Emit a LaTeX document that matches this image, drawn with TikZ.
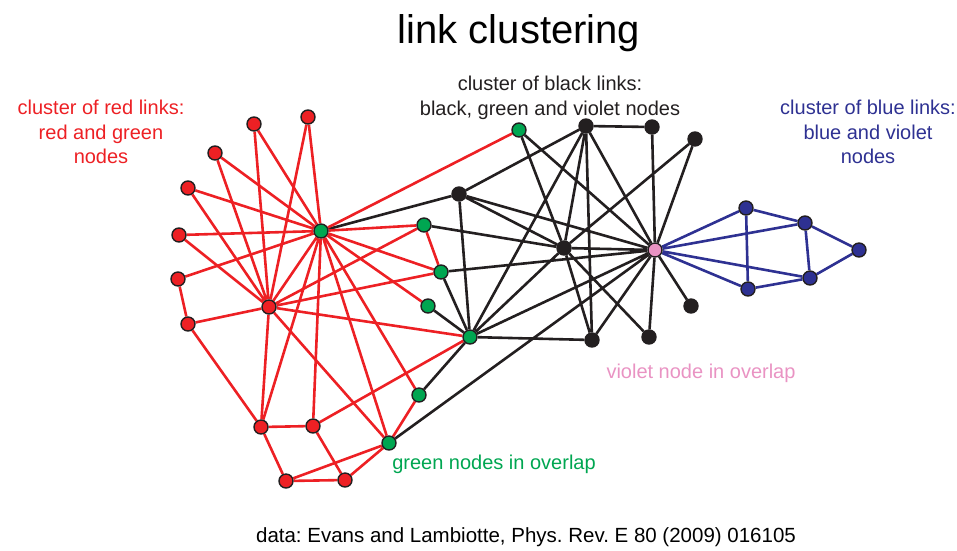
\documentclass[tikz,border=0pt]{standalone}
\usepackage{fontspec}
\setmainfont{Liberation Sans}
\usetikzlibrary{backgrounds}
\frenchspacing

\definecolor{lred}{HTML}{ED2024}
\definecolor{lgreen}{HTML}{00A651}
\definecolor{lblue}{HTML}{2E3192}
\definecolor{lblack}{HTML}{231F20}
\definecolor{lviolet}{HTML}{E993C3}

\begin{document}
\begin{tikzpicture}[x=1pt,y=-1pt,
  dot/.style={circle,draw=lblack,line width=1.4pt,minimum size=14pt,inner sep=0pt},
  rdot/.style={dot,fill=lred},
  gdot/.style={dot,fill=lgreen},
  kdot/.style={dot,fill=lblack},
  udot/.style={dot,fill=lblue},
  vdot/.style={dot,fill=lviolet},
  rlink/.style={lred,line width=2.6pt},
  klink/.style={lblack,line width=2.6pt},
  ulink/.style={lblue,line width=2.6pt},
  note/.style={font=\fontsize{20}{24.5}\selectfont,align=center,inner sep=0pt}]
\useasboundingbox (0,0) rectangle (957,550);

% red cluster
\node[rdot] (r1) at (254,124) {};
\node[rdot] (r2) at (308,117) {};
\node[rdot] (r3) at (215,153) {};
\node[rdot] (r4) at (188,188) {};
\node[rdot] (r5) at (179,235) {};
\node[rdot] (r6) at (178,279) {};
\node[rdot] (r7) at (188,324) {};
\node[rdot] (rhub) at (269,307) {};
\node[rdot] (r8) at (261,427) {};
\node[rdot] (r9) at (313,426) {};
\node[rdot] (r10) at (286,481) {};
\node[rdot] (r11) at (345,480) {};

% green nodes (overlap)
\node[gdot] (ghub) at (321,231) {};
\node[gdot] (gtop) at (519,130) {};
\node[gdot] (g1) at (424,225) {};
\node[gdot] (g2) at (441,272) {};
\node[gdot] (g3) at (428,306) {};
\node[gdot] (g4) at (419,395) {};
\node[gdot] (g5) at (389,443) {};
\node[gdot] (gmid) at (470,337) {};

% black cluster
\node[kdot] (k1) at (459,194) {};
\node[kdot] (k2) at (586,126) {};
\node[kdot] (k3) at (652,127) {};
\node[kdot] (k4) at (695,139) {};
\node[kdot] (k5) at (564,248) {};
\node[kdot] (k6) at (691,306) {};
\node[kdot] (k7) at (592,340) {};
\node[kdot] (k8) at (649,337) {};
\node[vdot] (vio) at (655,250) {};

% blue cluster
\node[udot] (u1) at (746,208) {};
\node[udot] (u2) at (805,223) {};
\node[udot] (u3) at (859,250) {};
\node[udot] (u4) at (810,278) {};
\node[udot] (u5) at (748,289) {};

\begin{pgfonlayer}{background}
\draw[klink] (ghub) -- (k1) (k1) -- (k2) (k1) -- (gmid) (k1) -- (k5) (k1) -- (vio)
  (gtop) -- (k5) (gtop) -- (vio)
  (k2) -- (k3) (k2) -- (gmid) (k2) -- (k5) (k2) -- (k7) (k2) -- (vio)
  (k3) -- (vio) (k4) -- (k5) (k4) -- (vio)
  (g1) -- (k5) (g2) -- (vio) (g2) -- (gmid) (g3) -- (gmid) (g4) -- (gmid) (g5) -- (vio)
  (gmid) -- (k5) (gmid) -- (vio) (gmid) -- (k7)
  (k5) -- (vio) (k5) -- (k7) (k5) -- (k8)
  (vio) -- (k6) (vio) -- (k7) (vio) -- (k8);
\draw[rlink] (ghub) -- (r1) (ghub) -- (r2) (ghub) -- (r3) (ghub) -- (r4) (ghub) -- (r5)
  (ghub) -- (r6) (ghub) -- (rhub) (ghub) -- (g1) (ghub) -- (g2) (ghub) -- (g3)
  (ghub) -- (r8) (ghub) -- (r9) (ghub) -- (g5) (ghub) -- (g4) (ghub) -- (gtop);
\draw[rlink] (rhub) -- (r1) (rhub) -- (r2) (rhub) -- (r3) (rhub) -- (r4) (rhub) -- (r5)
  (rhub) -- (r7) (rhub) -- (r8) (rhub) -- (g5) (rhub) -- (g1) (rhub) -- (g2) (rhub) -- (gmid);
\draw[rlink] (r6) -- (r7) (r7) -- (r8) (r8) -- (r9) (r9) -- (gmid) (r8) -- (r10)
  (r10) -- (r11) (r11) -- (r9) (r10) -- (g5) (g5) -- (r11) (g5) -- (g4) (g1) -- (g2);
\draw[ulink] (vio) -- (u1) (vio) -- (u2) (vio) -- (u4) (vio) -- (u5)
  (u1) -- (u2) (u2) -- (u3) (u3) -- (u4) (u4) -- (u5) (u5) -- (u1) (u2) -- (u4);
\end{pgfonlayer}

% texts
\node[font=\fontsize{40}{48}\selectfont,anchor=base] (title) at (519,43) {link clustering};
\node[note,lred,anchor=north] (redtxt) at (101,100) {cluster of red links:\\red and green\\nodes};
\node[note,lblack,anchor=north] (blacktxt) at (550,76) {cluster of black links:\\black, green and violet nodes};
\node[note,lblue,anchor=north] (bluetxt) at (868,100) {cluster of blue links:\\blue and violet\\nodes};
\node[note,lviolet,anchor=base] (viotxt) at (701,378) {violet node in overlap};
\node[note,lgreen,anchor=base] (greentxt) at (494,469) {green nodes in overlap};
\node[note,font=\fontsize{20.5}{24}\selectfont,anchor=base] (source) at (526,542) {data: Evans and Lambiotte, Phys. Rev. E 80 (2009) 016105};
\end{tikzpicture}
\end{document}
